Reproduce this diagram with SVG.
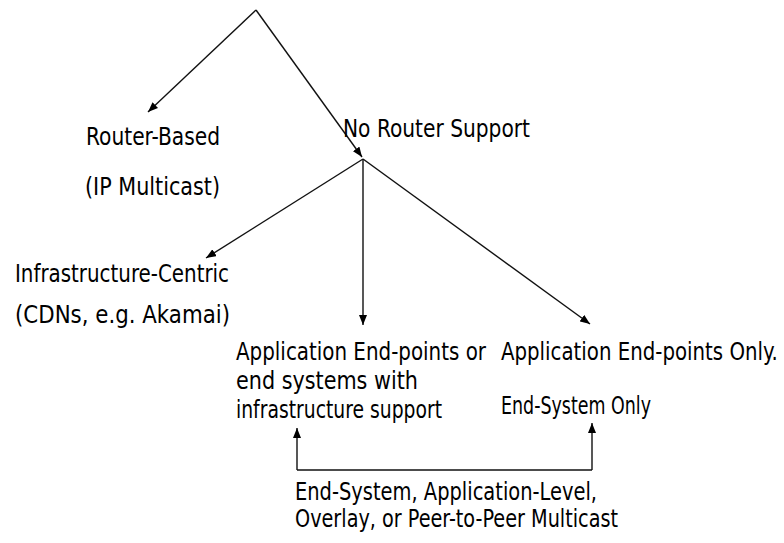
<svg xmlns="http://www.w3.org/2000/svg" width="784" height="543" viewBox="0 0 784 543">
  <defs>
    <marker id="arrow" viewBox="0 0 10 8" refX="10" refY="4" markerWidth="10" markerHeight="8" markerUnits="userSpaceOnUse" orient="auto">
      <path d="M0,0 L10,4 L0,8 Z" fill="#000"/>
    </marker>
    <style>
      .lbl { font-family: "DejaVu Sans Condensed", "DejaVu Sans", "Liberation Sans", sans-serif; font-stretch: condensed; font-size: 25px; fill: #000; }
      .edge { stroke: #111; stroke-width: 1.4; fill: none; }
      .arr { marker-end: url(#arrow); }
    </style>
  </defs>
  <rect width="784" height="543" fill="#fff"/>

  <!-- connectors -->
  <g id="connectors">
    <line class="edge arr" x1="256" y1="10" x2="148" y2="112"/>
    <line class="edge arr" x1="256" y1="10" x2="362" y2="157"/>
    <line class="edge arr" x1="363" y1="159" x2="206" y2="258"/>
    <line class="edge arr" x1="363" y1="159" x2="363" y2="325"/>
    <line class="edge arr" x1="363" y1="159" x2="590" y2="324"/>
    <polyline class="edge" points="297,470 592,470"/>
    <line class="edge arr" x1="297" y1="470" x2="297" y2="428"/>
    <line class="edge arr" x1="592" y1="470" x2="592" y2="423"/>
  </g>

  <g id="router-based">
    <text class="lbl" x="86" y="145" textLength="134" lengthAdjust="spacingAndGlyphs">Router-Based</text>
    <text class="lbl" x="85" y="195" textLength="135" lengthAdjust="spacingAndGlyphs">(IP Multicast)</text>
  </g>

  <g id="no-router-support">
    <text class="lbl" x="343" y="137" textLength="187" lengthAdjust="spacingAndGlyphs">No Router Support</text>
  </g>

  <g id="infrastructure-centric">
    <text class="lbl" x="15" y="282" textLength="214" lengthAdjust="spacingAndGlyphs">Infrastructure-Centric</text>
    <text class="lbl" x="15" y="323" textLength="215" lengthAdjust="spacingAndGlyphs">(CDNs, e.g. Akamai)</text>
  </g>

  <g id="endpoints-with-infrastructure">
    <text class="lbl" x="236" y="360" textLength="250" lengthAdjust="spacingAndGlyphs">Application End-points or</text>
    <text class="lbl" x="236" y="389" textLength="182" lengthAdjust="spacingAndGlyphs">end systems with</text>
    <text class="lbl" x="236" y="418" textLength="206" lengthAdjust="spacingAndGlyphs">infrastructure support</text>
  </g>

  <g id="endpoints-only">
    <!-- narrowed horizontally so the line ends just inside the right edge -->
    <text class="lbl" transform="translate(501 360) scale(0.8 1)" x="0" y="0" textLength="346" lengthAdjust="spacingAndGlyphs">Application End-points Only.</text>
    <text class="lbl" x="501" y="414" textLength="150" lengthAdjust="spacingAndGlyphs">End-System Only</text>
  </g>

  <g id="overlay-multicast">
    <text class="lbl" x="295" y="500" textLength="302" lengthAdjust="spacingAndGlyphs">End-System, Application-Level,</text>
    <text class="lbl" x="295" y="527" textLength="323" lengthAdjust="spacingAndGlyphs">Overlay, or Peer-to-Peer Multicast</text>
  </g>
</svg>
